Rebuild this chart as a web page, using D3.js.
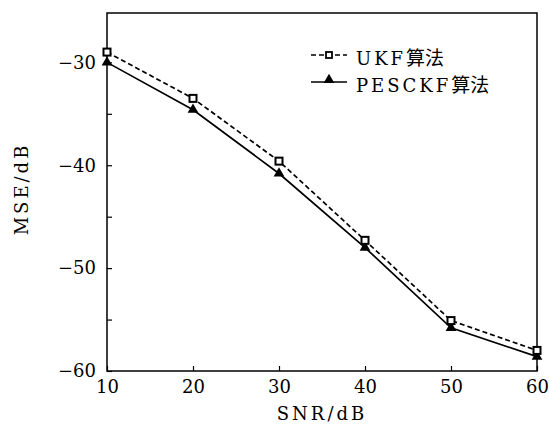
<!DOCTYPE html>
<html>
<head>
<meta charset="utf-8">
<style>
    body { margin: 0; background: #fff; }
    svg { display: block; font-family: "DejaVu Serif", "Liberation Serif", serif; }
    .axis .domain { display: none; }
    .axis .tick line { stroke: #000; stroke-width: 1.2px; }
    .axis .tick text { font-size: 18px; fill: #000; font-family: "DejaVu Serif", serif; }
</style>
</head>
<body>
<svg width="549" height="432"></svg>
<script src="https://d3js.org/d3.v7.min.js"></script>
<script>
    // data
    const snr = [10, 20, 30, 40, 50, 60]
    const ukf = [-29.0, -33.5, -39.6, -47.3, -55.1, -58.0]
    const pesckf = [-30.0, -34.6, -40.8, -48.0, -55.8, -58.6]
    const yTicks = [-30, -40, -50, -60]
    const yMinor = [-35, -45, -55]
    const xTicks = [10, 20, 30, 40, 50, 60]
    const labels = ["UKF", "PESCKF"]

    let svg = d3.select("svg")
    let margin = { top: 13, right: 12, bottom: 61, left: 107 }
    let width = 549, height = 432

    let x = d3.scaleLinear()
        .domain([10, 60])
        .range([margin.left, width - margin.right])

    let y = d3.scaleLinear()
        .domain([-60, -25.2])
        .range([height - margin.bottom, margin.top])

    // x axis, ticks pointing inward
    svg.append("g")
        .attr("class", "x axis")
        .attr("transform", `translate(0,${height - margin.bottom})`)
        .call(d3.axisBottom(x).tickValues(xTicks).tickSize(-5).tickPadding(9).tickFormat(d3.format("d")))

    // y axis majors
    svg.append("g")
        .attr("class", "y axis")
        .attr("transform", `translate(${margin.left},0)`)
        .call(d3.axisLeft(y).tickValues(yTicks).tickSize(-5).tickPadding(11)
            .tickFormat(d => "\u2212" + Math.abs(d)))

    // y axis minors
    svg.append("g")
        .attr("class", "y axis")
        .attr("transform", `translate(${margin.left},0)`)
        .call(d3.axisLeft(y).tickValues(yMinor).tickSize(-5).tickFormat(""))

    // frame
    svg.append("rect")
        .attr("x", margin.left)
        .attr("y", margin.top)
        .attr("width", width - margin.left - margin.right)
        .attr("height", height - margin.top - margin.bottom)
        .style("fill", "none")
        .style("stroke", "#000")
        .style("stroke-width", "1.5px")

    let line = d3.line()
        .x((d, i) => x(snr[i]))
        .y(d => y(d))

    svg.append("path")
        .attr("d", line(ukf))
        .style("fill", "none")
        .style("stroke", "#000")
        .style("stroke-width", "1.7px")
        .style("stroke-dasharray", "5,3")

    svg.append("path")
        .attr("d", line(pesckf))
        .style("fill", "none")
        .style("stroke", "#000")
        .style("stroke-width", "1.7px")

    let tri = d3.symbol().type(d3.symbolTriangle).size(50)

    svg.append("g")
        .selectAll("path")
        .data(pesckf)
        .join("path")
        .attr("d", tri)
        .attr("transform", (d, i) => `translate(${x(snr[i])},${y(d)})`)
        .style("fill", "#000")

    svg.append("g")
        .selectAll("rect")
        .data(ukf)
        .join("rect")
        .attr("x", (d, i) => x(snr[i]) - 3.5)
        .attr("y", d => y(d) - 3.5)
        .attr("width", 7)
        .attr("height", 7)
        .style("fill", "#fff")
        .style("stroke", "#000")
        .style("stroke-width", "2px")

    // legend
    let legend = svg.append("g").attr("transform", "translate(311,0)")
    legend.append("line")
        .attr("x1", 0).attr("x2", 36).attr("y1", 55).attr("y2", 55)
        .style("stroke", "#000").style("stroke-width", "1.7px").style("stroke-dasharray", "5,3")
    legend.append("rect")
        .attr("x", 15).attr("y", 52).attr("width", 6).attr("height", 6)
        .style("fill", "#fff").style("stroke", "#000").style("stroke-width", "1.8px")
    legend.append("line")
        .attr("x1", 0).attr("x2", 36).attr("y1", 82).attr("y2", 82)
        .style("stroke", "#000").style("stroke-width", "1.7px")
    legend.append("path")
        .attr("d", tri)
        .attr("transform", "translate(18,80)")
        .style("fill", "#000")

    legend.selectAll(".lab")
        .data(labels)
        .join("text")
        .attr("class", "lab")
        .attr("x", 45)
        .attr("y", (d, i) => 65 + i * 27)
        .style("font-size", "18px")
        .each(function (d) {
            d3.select(this).append("tspan").style("letter-spacing", "3px").text(d)
            d3.select(this).append("tspan")
                .style("font-family", "'Noto Sans CJK SC'")
                .style("font-size", "19px")
                .text("算法")
        })

    // axis titles
    svg.append("text")
        .attr("x", (margin.left + width - margin.right) / 2)
        .attr("y", 420)
        .attr("text-anchor", "middle")
        .style("font-size", "18px")
        .style("letter-spacing", "3px")
        .text("SNR/dB")

    svg.append("text")
        .attr("transform", "translate(28,189) rotate(-90)")
        .attr("text-anchor", "middle")
        .style("font-size", "18px")
        .style("letter-spacing", "3px")
        .text("MSE/dB")
</script>
</body>
</html>
